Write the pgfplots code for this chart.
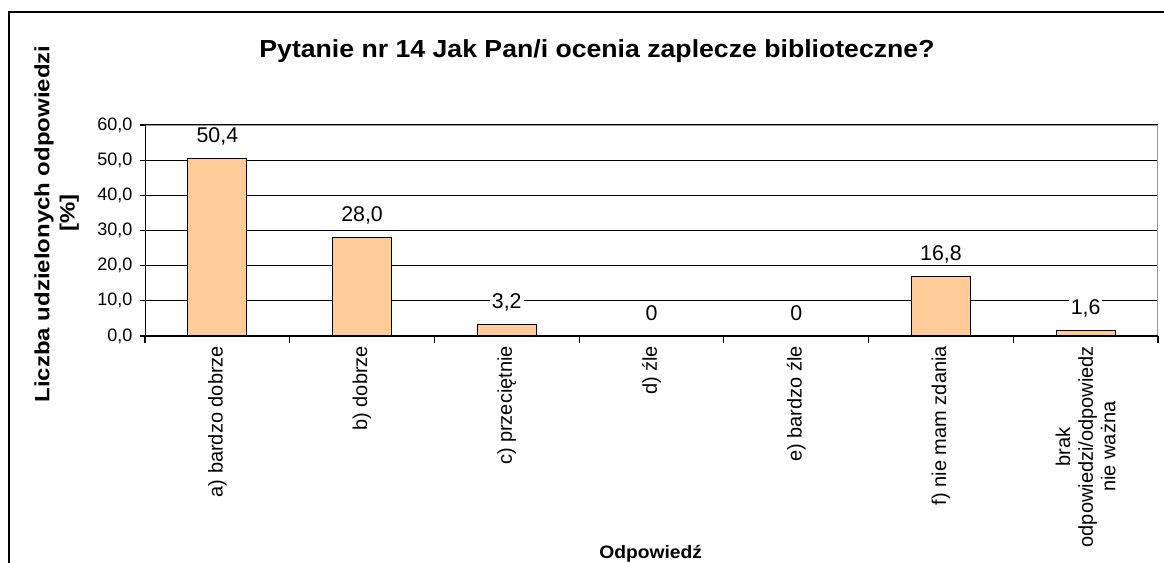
\documentclass[border=0pt]{standalone}
\usepackage{pgfplots}
\pgfplotsset{compat=1.18}
\usepackage{fontspec}
\setmainfont{Liberation Sans}
\definecolor{barc}{HTML}{FFCC99}
\definecolor{bord}{HTML}{999999}
\begin{document}
\begin{tikzpicture}
\useasboundingbox (0,0) rectangle (873pt,-422.25pt);
\fill[white] (0,0) rectangle (873pt,-422.25pt);
\draw[line width=1.1pt] (6.75pt,-450pt) -- (6.75pt,-9pt) -- (900pt,-9pt);
\node[anchor=base, font=\fontsize{18.5}{22}\selectfont\bfseries] at (447.75pt,-43.5pt) {\scalebox{1.08}[1]{Pytanie nr 14 Jak Pan/i ocenia zaplecze biblioteczne?}};
\node[rotate=90, anchor=base, font=\fontsize{15.5}{21}\selectfont\bfseries] at (37pt,-168pt) {\scalebox{1.16}[1]{Liczba udzielonych odpowiedzi}};
\node[rotate=90, anchor=base, font=\fontsize{15.5}{21}\selectfont\bfseries] at (56pt,-160pt) {\scalebox{1.16}[1]{[\%]}};
\node[anchor=base, font=\fontsize{13.5}{16}\selectfont\bfseries] at (488pt,-418.5pt) {\scalebox{1.07}[1]{Odpowiedź}};
\begin{axis}[
  at={(108.75pt,-252pt)}, anchor=south west,
  scale only axis, width=759.75pt, height=158.25pt,
  xmin=-0.5, xmax=6.5, ymin=0, ymax=60,
  ytick={0,10,...,60},
  ymajorgrids, grid style={black, line width=0.8pt},
  axis line style={draw=none},
  tick align=outside,
  xtick pos=bottom, ytick pos=left,
  ytick style={black, line width=0.8pt},
  major tick length=4pt,
  yticklabel style={font=\fontsize{13.5}{16}\selectfont, xshift=-2pt},
  /pgf/number format/.cd, fixed, fixed zerofill, precision=1, use comma, assume math mode=true,
  /pgfplots/.cd,
  xtick={0,...,6},
  xtick style={draw=none},
  xticklabels={a) bardzo dobrze, b) dobrze, c) przeciętnie, d) źle, e) bardzo źle, f) nie mam zdania, {brak\\odpowiedzi/odpowiedz\\nie ważna}},
  xticklabel style={rotate=90, anchor=east, align=center, font=\fontsize{15}{17}\selectfont, yshift=0pt},
  extra x ticks={-0.5,0.5,...,6.5},
  extra x tick labels={},
  extra x tick style={xtick style={draw=black, line width=0.8pt}, major tick length=5pt},
  ybar, bar width=44.25pt, bar shift=0pt,
  nodes near coords,
  point meta=explicit symbolic,
  every node near coord/.append style={anchor=base, yshift=12pt, fill=white, inner xsep=1.5pt, inner ysep=1pt, font=\fontsize{16}{19}\selectfont},
]
\addplot[fill=barc, draw=black, line width=0.8pt] coordinates {
  (0,50.4) [50,4]
  (1,28.0) [28,0]
  (2,3.2) [3,2]
  (3,0) [0]
  (4,0) [0]
  (5,16.8) [16,8]
  (6,1.6) [1,6]
};
\draw[bord, line width=1pt] (rel axis cs:0,1) -- (rel axis cs:1,1) -- (rel axis cs:1,0);
\draw[black, line width=0.9pt] (rel axis cs:0,1) -- (rel axis cs:0,0) -- (rel axis cs:1,0);
\end{axis}
\end{tikzpicture}
\end{document}
